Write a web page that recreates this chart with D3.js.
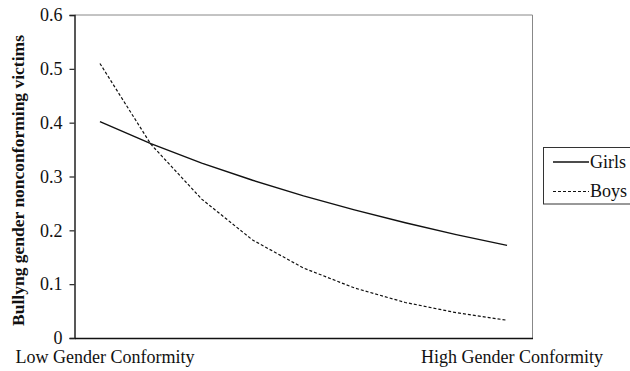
<!DOCTYPE html>
<html>
<head>
<meta charset="utf-8">
<script src="https://cdn.jsdelivr.net/npm/d3@7"></script>
<style>
  html, body { margin: 0; padding: 0; background: #fff; }
  svg { display: block; }
</style>
</head>
<body>
<svg id="chart" width="630" height="371"></svg>
<script>
// ---- data ----
const categories = ["c1","c2","c3","c4","c5","c6","c7","c8","c9"];
const categoryLabels = ["Low Gender Conformity","","","","","","","","High Gender Conformity"];
const girls = [0.402, 0.361, 0.325, 0.293, 0.264, 0.238, 0.214, 0.192, 0.172];
const boys  = [0.510, 0.360, 0.258, 0.182, 0.130, 0.093, 0.066, 0.047, 0.033];
const yTicks = [0, 0.1, 0.2, 0.3, 0.4, 0.5, 0.6];
const yTickLabels = ["0","0.1","0.2","0.3","0.4","0.5","0.6"];
const seriesNames = ["Girls","Boys"];
const yTitle = "Bullyng gender nonconforming victims";

// ---- layout ----
const FONT = '"Liberation Serif", "Times New Roman", Times, serif';
const svg = d3.select("#chart");
const plot = {left: 74.5, right: 532.5, top: 15, bottom: 338};
const fontSize = 18;

const x = d3.scaleBand().domain(categories).range([plot.left, plot.right]);
const y = d3.scaleLinear().domain([0, 0.6]).range([plot.bottom, plot.top]);
const cx = c => x(c) + x.bandwidth() / 2;

// frame: top and right gray
svg.append("line").attr("x1", plot.left).attr("x2", plot.right)
  .attr("y1", plot.top).attr("y2", plot.top)
  .attr("stroke", "#888").attr("stroke-width", 1);
svg.append("line").attr("x1", plot.right).attr("x2", plot.right)
  .attr("y1", plot.top).attr("y2", plot.bottom)
  .attr("stroke", "#888").attr("stroke-width", 1);

// y axis
const yAxis = d3.axisLeft(y).tickValues(yTicks)
  .tickFormat((d, i) => yTickLabels[i]).tickSize(5).tickPadding(7);
const gy = svg.append("g").attr("transform", `translate(${plot.left},0)`).call(yAxis);
gy.select(".domain").attr("stroke", "#222").attr("stroke-width", 1.5);
gy.selectAll(".tick line").attr("stroke", "#222").attr("stroke-width", 1.2);
gy.selectAll(".tick text").style("font-size", fontSize + "px")
  .style("font-family", FONT).attr("fill", "#111");

// x axis
const xAxis = d3.axisBottom(x).tickFormat((d, i) => categoryLabels[i]).tickSize(0).tickPadding(12);
const gx = svg.append("g").attr("transform", `translate(0,${plot.bottom})`).call(xAxis);
gx.select(".domain").attr("stroke", "#111").attr("stroke-width", 1.5);
gx.selectAll(".tick text").style("font-size", fontSize + "px")
  .style("font-family", FONT).attr("fill", "#111")
  .attr("dx", 5);

// y title
svg.append("text")
  .attr("transform", `translate(24,${(plot.top + plot.bottom) / 2 + 4}) rotate(-90)`)
  .attr("text-anchor", "middle")
  .style("font-size", "17.5px")
  .style("font-family", FONT)
  .style("font-weight", "bold")
  .attr("fill", "#111")
  .text(yTitle);

// lines
const line = d3.line().x((d, i) => cx(categories[i])).y(d => y(d));
svg.append("path").datum(girls).attr("d", line)
  .attr("fill", "none").attr("stroke", "#111").attr("stroke-width", 1.4);
svg.append("path").datum(boys).attr("d", line)
  .attr("fill", "none").attr("stroke", "#111").attr("stroke-width", 1.2)
  .attr("stroke-dasharray", "3,2");

// legend
const lg = svg.append("g");
lg.append("rect").attr("x", 543.5).attr("y", 147.5).attr("width", 95).attr("height", 56.5)
  .attr("fill", "#fff").attr("stroke", "#333").attr("stroke-width", 1);
const legendRows = [
  {name: seriesNames[0], dash: null, yy: 162},
  {name: seriesNames[1], dash: "3,2", yy: 191.5}
];
legendRows.forEach(r => {
  lg.append("line").attr("x1", 553).attr("x2", 589).attr("y1", r.yy).attr("y2", r.yy)
    .attr("stroke", "#111").attr("stroke-width", r.dash ? 1.2 : 1.4)
    .attr("stroke-dasharray", r.dash);
  lg.append("text").attr("x", 590).attr("y", r.yy).attr("dy", "0.33em")
    .style("font-size", fontSize + "px").style("font-family", FONT)
    .attr("fill", "#111").text(r.name);
});
</script>
</body>
</html>
